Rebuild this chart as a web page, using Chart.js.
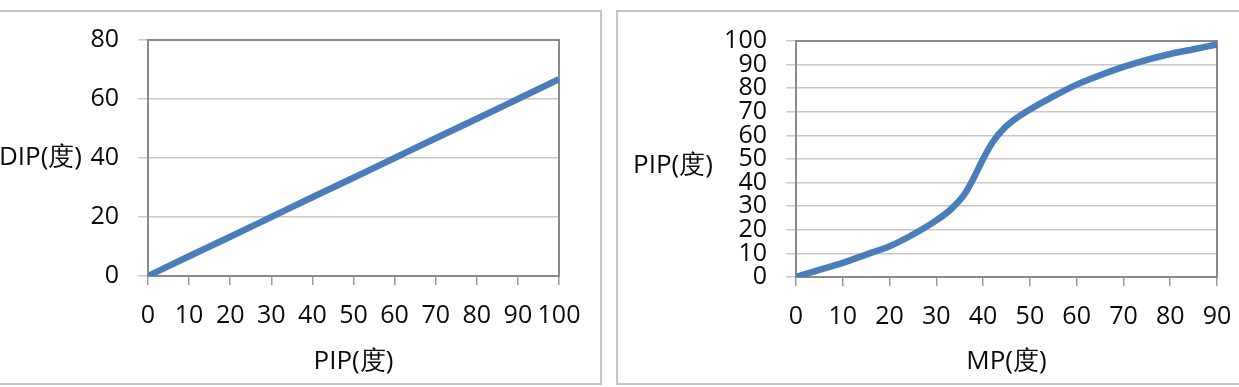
<!DOCTYPE html>
<html>
<head>
<meta charset="utf-8">
<script src="https://cdn.jsdelivr.net/npm/chart.js@4.4.1/dist/chart.umd.min.js"></script>
<style>
html,body{margin:0;padding:0;background:#fff;width:1239px;height:387px;overflow:hidden;}
.panel{position:absolute;border:2px solid #c4c4c4;box-sizing:border-box;}
canvas{position:absolute;}
</style>
</head>
<body>
<div class="panel" style="left:-4px;top:10px;width:606px;height:375px"></div>
<div class="panel" style="left:616px;top:10px;width:630px;height:375px"></div>
<canvas id="chartDip" style="left:0;top:5px" width="598" height="377"></canvas>
<canvas id="chartPip" style="left:620px;top:5px" width="629" height="377"></canvas>
<script>
// Gráfico izquierdo: DIP frente a PIP
const pipX = [0, 10, 20, 30, 40, 50, 60, 70, 80, 90, 100];
const dipY = [0, 6.7, 13.3, 20, 26.7, 33.3, 40, 46.7, 53.3, 60, 66.7];

// Gráfico derecho: PIP frente a MP (curva en S)
const mpX  = [0, 5, 10, 15, 20, 25, 30, 33, 36, 38, 40, 42, 45, 50, 55, 60, 65, 70, 75, 80, 85, 90];
const pipY = [0, 3, 6, 9.5, 13, 18, 24, 28.5, 35, 42, 50, 57, 64, 71, 76.5, 81.5, 85.5, 89, 92, 94.5, 96.5, 98.5];

const dipTitles = {x: 'PIP(度)', y: 'DIP(度)'};
const pipTitles = {x: 'MP(度)', y: 'PIP(度)'};

const FONT = 'Open Sans';
const TEXT = '#0a0a0a';
const BLUE = '#4a7ebb';

// marco gris del área de trazado + título del eje Y en horizontal (como Excel)
const plotFrame = {
    id: 'plotFrame',
    beforeDatasetsDraw(chart){
        const {ctx, chartArea:a} = chart;
        ctx.save();
        ctx.strokeStyle = '#8a8a8a'; ctx.lineWidth = 2;
        ctx.strokeRect(a.left, a.top, a.right - a.left, a.bottom - a.top);
        ctx.restore();
    },
    afterDraw(chart, args, opts){
        const ctx = chart.ctx;
        ctx.save();
        ctx.font = '26px "' + FONT + '"';
        ctx.fillStyle = TEXT;
        ctx.textAlign = opts.align;
        ctx.textBaseline = 'middle';
        ctx.fillText(opts.text, opts.x, opts.y);
        ctx.restore();
    }
};

function makeChart(id, xs, ys, titles, xMax, yMax, yStep, yWidth, xHeight, pad, yTitle){
    const ctx = document.getElementById(id).getContext('2d');
    return new Chart(ctx, {
        type: 'scatter',
        data: {
            datasets: [{
                data: xs.map((x,i)=>({x: x, y: ys[i]})),
                showLine: true,
                borderColor: BLUE,
                borderWidth: 6.5,
                pointRadius: 0,
                cubicInterpolationMode: 'monotone',
                tension: 0.4
            }]
        },
        options: {
            responsive: false,
            animation: false,
            layout: {padding: pad},
            plugins: {
                legend: {display:false},
                tooltip: {enabled:false},
                plotFrame: yTitle
            },
            scales: {
                x: {
                    type: 'linear', min: 0, max: xMax,
                    ticks: {stepSize: 10, color: TEXT, font: {family: FONT, size: 25}, padding: 16, maxRotation: 0, autoSkip: false},
                    grid: {drawOnChartArea: false, color: '#9a9a9a', lineWidth: 1.5, tickLength: 9},
                    border: {color: '#8a8a8a', width: 2},
                    title: {display: true, text: titles.x, color: TEXT, font: {family: FONT, size: 26}, padding: {top: 0, bottom: 5}},
                    afterFit: s => { s.height = xHeight; }
                },
                y: {
                    min: 0, max: yMax,
                    ticks: {stepSize: yStep, color: TEXT, font: {family: FONT, size: 25}, padding: 19, autoSkip: false},
                    grid: {color: '#c8c8c8', lineWidth: 1.5, tickLength: 10},
                    border: {color: '#8a8a8a', width: 2},
                    afterFit: s => { s.width = yWidth; }
                }
            }
        },
        plugins: [plotFrame]
    });
}

makeChart('chartDip', pipX, dipY, dipTitles, 100, 80, 20, 148, 106,
    {top: 35, right: 39, left: 0, bottom: 0},
    {text: dipTitles.y, x: 82, y: 153, align: 'right'});

makeChart('chartPip', mpX, pipY, pipTitles, 90, 100, 10, 176, 105,
    {top: 36, right: 32, left: 0, bottom: 0},
    {text: pipTitles.y, x: 13, y: 161, align: 'left'});
</script>
</body>
</html>
